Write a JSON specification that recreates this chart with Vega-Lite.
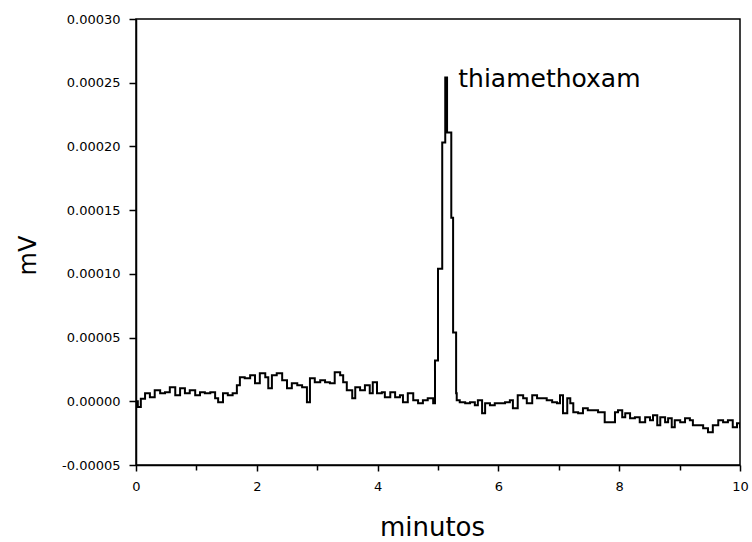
{
  "$schema": "https://vega.github.io/schema/vega-lite/v6.json",
  "width": 604,
  "height": 446,
  "autosize": {"type": "none"},
  "padding": {"left": 136, "top": 19, "right": 12, "bottom": 77},
  "background": "white",
  "config": {
    "font": "DejaVu Sans",
    "view": {"stroke": "black", "strokeWidth": 1.5},
    "axis": {"grid": false, "domainColor": "black", "domainWidth": 1.5, "tickColor": "black", "tickWidth": 1.5, "labelColor": "black", "titleColor": "black", "labelFont": "DejaVu Sans", "titleFont": "DejaVu Sans", "titleFontWeight": "normal"}
  },
  "layer": [
    {
      "data": {"values": [
        {"t": 0.0, "v": 0.0}, {"t": 0.03, "v": -4.5e-6}, {"t": 0.08, "v": 2.0e-6}, {"t": 0.15, "v": 6.3e-6}, {"t": 0.23, "v": 3.1e-6}, {"t": 0.31, "v": 8.6e-6}, {"t": 0.40, "v": 6.3e-6}, {"t": 0.48, "v": 7.1e-6}, {"t": 0.56, "v": 11.0e-6}, {"t": 0.65, "v": 4.7e-6}, {"t": 0.73, "v": 10.2e-6}, {"t": 0.81, "v": 6.3e-6}, {"t": 0.89, "v": 8.6e-6}, {"t": 0.98, "v": 4.7e-6}, {"t": 1.06, "v": 7.1e-6}, {"t": 1.14, "v": 6.3e-6}, {"t": 1.23, "v": 7.1e-6}, {"t": 1.31, "v": 2.4e-6}, {"t": 1.36, "v": -0.8e-6}, {"t": 1.44, "v": 6.3e-6}, {"t": 1.52, "v": 4.7e-6}, {"t": 1.60, "v": 6.3e-6}, {"t": 1.67, "v": 12.6e-6}, {"t": 1.72, "v": 18.8e-6}, {"t": 1.80, "v": 18.1e-6}, {"t": 1.89, "v": 20.4e-6}, {"t": 1.97, "v": 14.1e-6}, {"t": 2.05, "v": 22.0e-6}, {"t": 2.14, "v": 18.8e-6}, {"t": 2.19, "v": 10.2e-6}, {"t": 2.25, "v": 20.4e-6}, {"t": 2.33, "v": 22.0e-6}, {"t": 2.42, "v": 16.5e-6}, {"t": 2.50, "v": 10.2e-6}, {"t": 2.58, "v": 14.1e-6}, {"t": 2.67, "v": 12.6e-6}, {"t": 2.75, "v": 11.0e-6}, {"t": 2.83, "v": -0.8e-6}, {"t": 2.88, "v": 18.1e-6}, {"t": 2.96, "v": 14.9e-6}, {"t": 3.05, "v": 16.5e-6}, {"t": 3.13, "v": 14.9e-6}, {"t": 3.21, "v": 14.1e-6}, {"t": 3.29, "v": 22.8e-6}, {"t": 3.38, "v": 20.4e-6}, {"t": 3.43, "v": 14.9e-6}, {"t": 3.49, "v": 8.6e-6}, {"t": 3.58, "v": 2.4e-6}, {"t": 3.63, "v": 11.0e-6}, {"t": 3.71, "v": 8.6e-6}, {"t": 3.79, "v": 12.6e-6}, {"t": 3.87, "v": 6.3e-6}, {"t": 3.92, "v": 14.9e-6}, {"t": 3.99, "v": 6.3e-6}, {"t": 4.07, "v": 7.1e-6}, {"t": 4.12, "v": 3.1e-6}, {"t": 4.21, "v": 7.1e-6}, {"t": 4.29, "v": 3.1e-6}, {"t": 4.37, "v": 4.7e-6}, {"t": 4.42, "v": -0.8e-6}, {"t": 4.50, "v": 6.3e-6}, {"t": 4.59, "v": 0.8e-6}, {"t": 4.67, "v": -1.6e-6}, {"t": 4.75, "v": 0.8e-6}, {"t": 4.83, "v": 2.4e-6}, {"t": 4.92, "v": -1.6e-6},
        {"t": 4.95, "v": 32e-6}, {"t": 5.00, "v": 104e-6}, {"t": 5.07, "v": 203e-6}, {"t": 5.12, "v": 254e-6}, {"t": 5.15, "v": 211e-6}, {"t": 5.22, "v": 144e-6}, {"t": 5.25, "v": 54e-6}, {"t": 5.30, "v": 6.3e-6},
        {"t": 5.31, "v": 0.8e-6}, {"t": 5.36, "v": -0.8e-6}, {"t": 5.45, "v": -1.6e-6}, {"t": 5.53, "v": -0.8e-6}, {"t": 5.61, "v": -3.1e-6}, {"t": 5.66, "v": 0.8e-6}, {"t": 5.73, "v": -9.4e-6}, {"t": 5.78, "v": -1.6e-6}, {"t": 5.86, "v": -3.1e-6}, {"t": 5.94, "v": -1.6e-6}, {"t": 6.03, "v": -1.6e-6}, {"t": 6.11, "v": -0.8e-6}, {"t": 6.19, "v": 0.8e-6}, {"t": 6.24, "v": -5.5e-6}, {"t": 6.32, "v": 4.7e-6}, {"t": 6.41, "v": 2.4e-6}, {"t": 6.47, "v": -1.6e-6}, {"t": 6.56, "v": 4.7e-6}, {"t": 6.64, "v": 2.4e-6}, {"t": 6.72, "v": 2.4e-6}, {"t": 6.80, "v": 0.8e-6}, {"t": 6.89, "v": -0.8e-6}, {"t": 6.97, "v": -1.6e-6}, {"t": 7.02, "v": 4.7e-6}, {"t": 7.07, "v": -9.4e-6}, {"t": 7.14, "v": 2.4e-6}, {"t": 7.19, "v": -1.6e-6}, {"t": 7.24, "v": -8.6e-6}, {"t": 7.32, "v": -9.4e-6}, {"t": 7.40, "v": -5.5e-6}, {"t": 7.48, "v": -7.1e-6}, {"t": 7.57, "v": -7.1e-6}, {"t": 7.65, "v": -8.6e-6}, {"t": 7.76, "v": -16.5e-6}, {"t": 7.85, "v": -16.5e-6}, {"t": 7.93, "v": -8.6e-6}, {"t": 7.98, "v": -7.1e-6}, {"t": 8.05, "v": -12.6e-6}, {"t": 8.10, "v": -9.4e-6}, {"t": 8.18, "v": -13.3e-6}, {"t": 8.26, "v": -12.6e-6}, {"t": 8.34, "v": -16.5e-6}, {"t": 8.43, "v": -12.6e-6}, {"t": 8.51, "v": -14.9e-6}, {"t": 8.56, "v": -11.0e-6}, {"t": 8.63, "v": -18.8e-6}, {"t": 8.68, "v": -12.6e-6}, {"t": 8.76, "v": -16.5e-6}, {"t": 8.81, "v": -13.3e-6}, {"t": 8.87, "v": -20.4e-6}, {"t": 8.92, "v": -14.9e-6}, {"t": 9.01, "v": -16.5e-6}, {"t": 9.09, "v": -13.3e-6}, {"t": 9.17, "v": -14.9e-6}, {"t": 9.22, "v": -18.8e-6}, {"t": 9.30, "v": -18.8e-6}, {"t": 9.39, "v": -21.2e-6}, {"t": 9.47, "v": -24.3e-6}, {"t": 9.55, "v": -18.8e-6}, {"t": 9.64, "v": -14.9e-6}, {"t": 9.72, "v": -16.5e-6}, {"t": 9.80, "v": -14.9e-6}, {"t": 9.88, "v": -20.4e-6}, {"t": 9.95, "v": -17.3e-6}, {"t": 10.0, "v": -21.2e-6}
      ]},
      "mark": {"type": "line", "color": "black", "strokeWidth": 2, "interpolate": "step-after", "clip": true},
      "encoding": {
        "x": {"field": "t", "type": "quantitative",
          "scale": {"domain": [0, 10], "nice": false, "zero": false},
          "axis": {
            "title": "minutos", "titleFontSize": 26, "titleX": 296, "titleY": 70, "titleBaseline": "alphabetic", "titleAlign": "center",
            "values": [0, 1, 2, 3, 4, 5, 6, 7, 8, 9, 10],
            "labelExpr": "datum.value % 2 == 0 ? format(datum.value, 'd') : ''",
            "labelFontSize": 13, "labelPadding": 9, "labelFlush": false, "labelOverlap": false,
            "tickSize": {"condition": {"test": "datum.value % 2 == 0", "value": 6}, "value": 5}
          }
        },
        "y": {"field": "v", "type": "quantitative",
          "scale": {"domain": [-0.00005, 0.0003], "nice": false, "zero": false},
          "axis": {
            "title": "mV", "titleFontSize": 24, "titleX": -101, "titleY": 236, "titleBaseline": "alphabetic", "titleAlign": "center", "titleAngle": -90,
            "values": [-0.00005, -0.000025, 0, 0.000025, 0.00005, 0.000075, 0.0001, 0.000125, 0.00015, 0.000175, 0.0002, 0.000225, 0.00025, 0.000275, 0.0003],
            "labelExpr": "abs(datum.value*20000 - round(datum.value*20000)) < 0.01 ? replace(format(datum.value, '.5f'), '\u2212', '-') : ''",
            "labelFontSize": 13, "labelPadding": 9, "labelFlush": false, "labelOverlap": false,
            "tickSize": {"condition": {"test": "abs(datum.value*20000 - round(datum.value*20000)) < 0.01", "value": 7}, "value": 5}
          }
        }
      }
    },
    {
      "data": {"values": [{"t": 5.12, "v": 0.000254, "label": "thiamethoxam"}]},
      "mark": {"type": "text", "align": "left", "baseline": "alphabetic", "dx": 13, "dy": 9, "fontSize": 25, "font": "DejaVu Sans", "color": "black"},
      "encoding": {
        "x": {"field": "t", "type": "quantitative"},
        "y": {"field": "v", "type": "quantitative"},
        "text": {"field": "label"}
      }
    }
  ]
}
